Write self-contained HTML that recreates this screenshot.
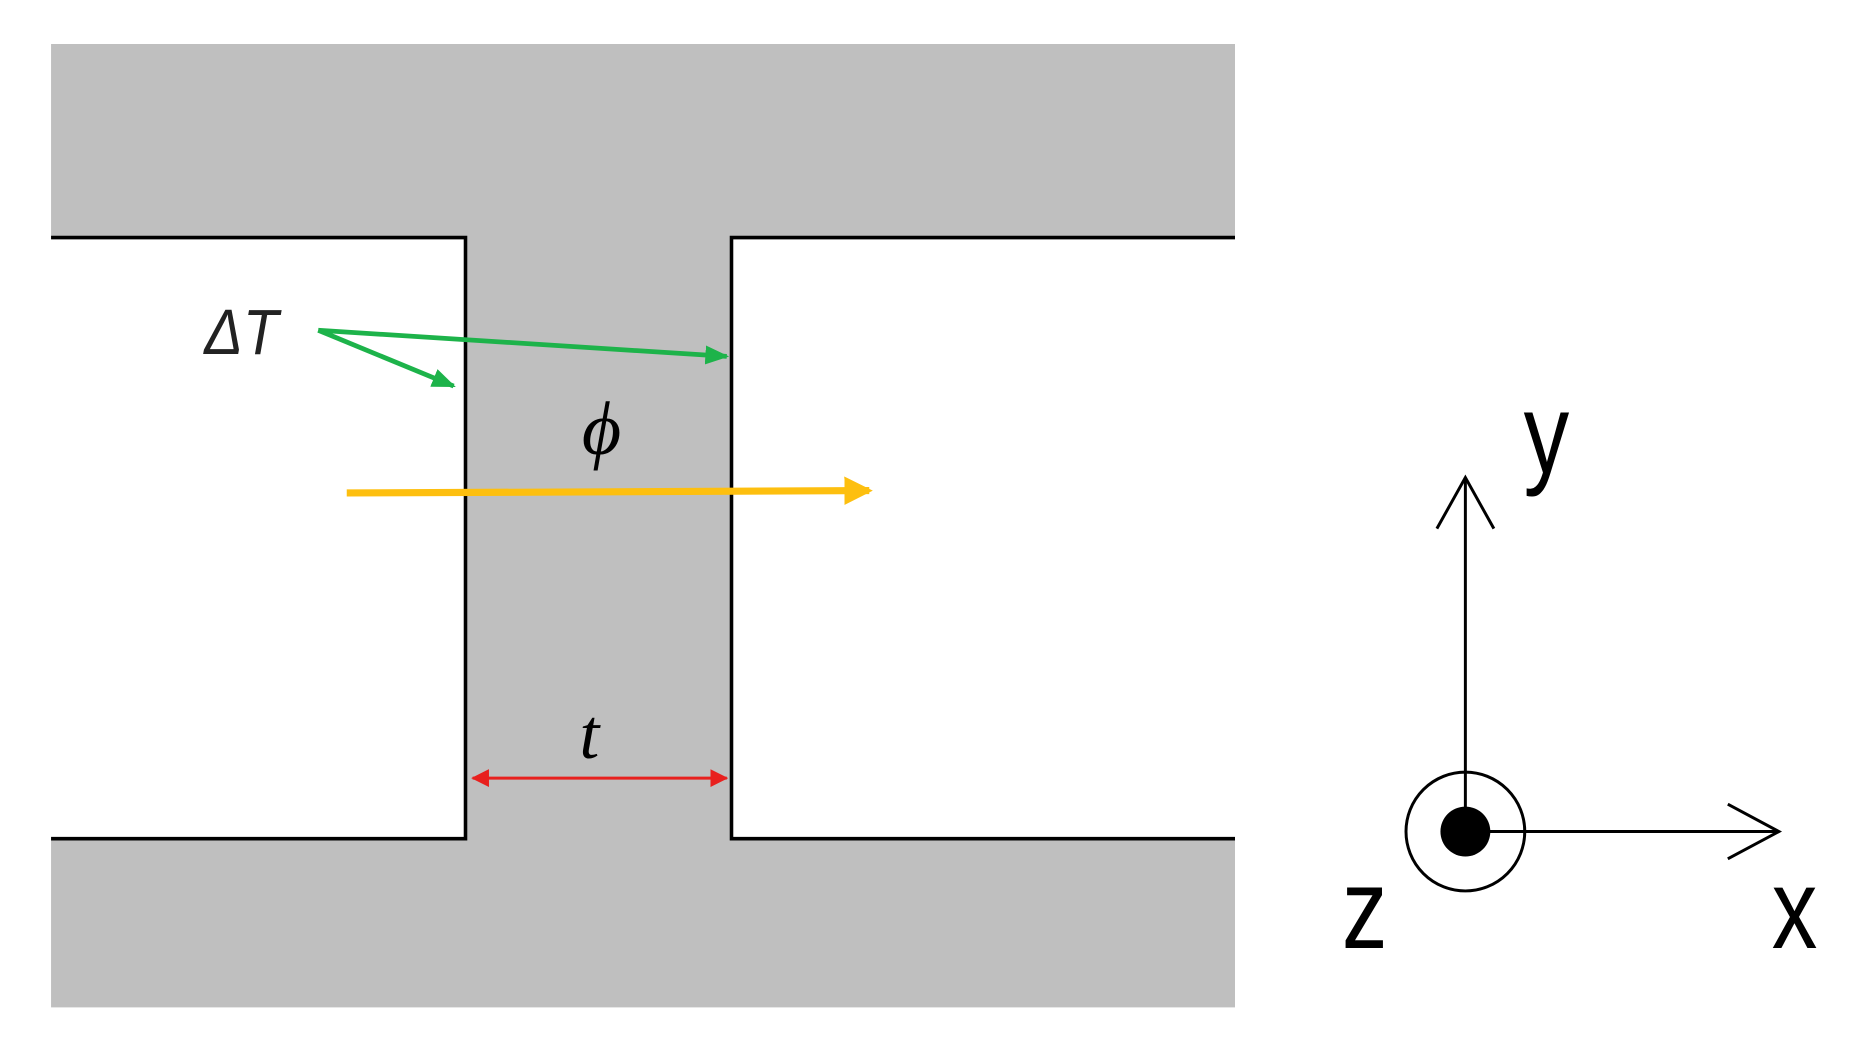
<!DOCTYPE html>
<html><head><style>html,body{margin:0;padding:0;background:#fff;}svg{display:block}</style></head>
<body>
<svg width="1862" height="1062" viewBox="0 0 1568 894" preserveAspectRatio="none" xmlns="http://www.w3.org/2000/svg">
<defs>
<marker id="g" markerWidth="5" markerHeight="4" refX="4.5" refY="2" orient="auto" markerUnits="strokeWidth"><path d="M0,0 L5,2 L0,4 z" fill="#1db34a"/></marker>
<marker id="y" markerWidth="4" markerHeight="4" refX="3.5" refY="2" orient="auto" markerUnits="strokeWidth"><path d="M0,0 L4,2 L0,4 z" fill="#fdbf0f"/></marker>
<marker id="r" markerWidth="6" markerHeight="6" refX="5.5" refY="3" orient="auto-start-reverse" markerUnits="strokeWidth"><path d="M0,0 L6,3 L0,6 z" fill="#e8201e"/></marker>
</defs>
<path d="M43,37 H1040 V200 H616 V706 H1040 V848 H43 V706 H392 V200 H43 Z" fill="#bfbfbf"/>
<path d="M43,200 H392 V706 H43" fill="none" stroke="#000" stroke-width="3"/>
<path d="M1040,200 H616 V706 H1040" fill="none" stroke="#000" stroke-width="3"/>
<text x="172" y="298" font-family="Liberation Sans, sans-serif" font-style="italic" font-size="54" fill="#222" transform="translate(172,0) scale(0.9,1) translate(-172,0)">ΔT</text>
<line x1="268" y1="278" x2="612" y2="300" stroke="#1db34a" stroke-width="4" marker-end="url(#g)"/>
<line x1="268" y1="278" x2="382" y2="325" stroke="#1db34a" stroke-width="4" marker-end="url(#g)"/>
<text x="490" y="382" font-family="Liberation Serif, serif" font-style="italic" font-size="64" fill="#000">ϕ</text>
<line x1="292" y1="415" x2="732" y2="413" stroke="#fdbf0f" stroke-width="6" marker-end="url(#y)"/>
<text x="488" y="638" font-family="Liberation Serif, serif" font-style="italic" font-size="60" fill="#000">t</text>
<line x1="398" y1="655" x2="612" y2="655" stroke="#e8201e" stroke-width="2.5" marker-start="url(#r)" marker-end="url(#r)"/>
<line x1="1234" y1="700" x2="1234" y2="402" stroke="#000" stroke-width="2.5"/>
<path d="M1210,445 L1234,402 L1258,445" fill="none" stroke="#000" stroke-width="2.5"/>
<line x1="1234" y1="700" x2="1498" y2="700" stroke="#000" stroke-width="2.5"/>
<path d="M1455,677 L1498,700 L1455,723" fill="none" stroke="#000" stroke-width="2.5"/>
<circle cx="1234" cy="700" r="50" fill="none" stroke="#000" stroke-width="2.5"/>
<circle cx="1234" cy="700" r="21" fill="#000"/>
<g font-family="Liberation Sans, sans-serif" font-size="96" fill="#000">
<text transform="translate(1283,398) scale(0.8,1)">y</text>
<text transform="translate(1130,798) scale(0.8,1)">z</text>
<text transform="translate(1492,798) scale(0.8,1)">x</text>
</g>
</svg>
</body></html>
